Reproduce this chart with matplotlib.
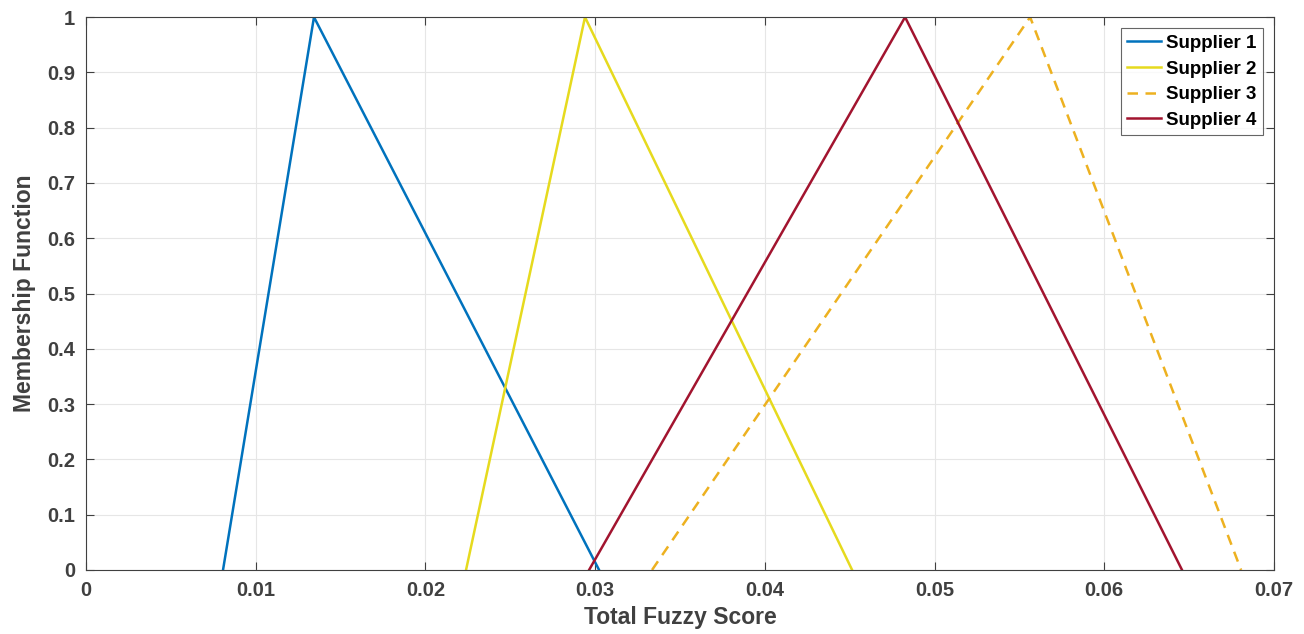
import numpy as np
import matplotlib.pyplot as plt

# triangular fuzzy numbers (l, m, u) for each supplier
names = ['Supplier 1', 'Supplier 2', 'Supplier 3', 'Supplier 4']
lower = [0.00807, 0.02239, 0.03335, 0.02964]
mid = [0.01343, 0.02940, 0.05563, 0.04826]
upper = [0.03023, 0.04514, 0.06806, 0.06458]
membership = [0, 1, 0]

colors = ['#0072BD', '#E6DA1E', '#EDB120', '#A2142F']
styles = ['-', '-', (0, (4.2, 3.0)), '-']

plt.rcParams['font.family'] = ['Liberation Sans', 'DejaVu Sans']
plt.rcParams['font.weight'] = 'bold'
txt = '#404040'

fig = plt.figure(figsize=(13.04, 6.34), dpi=100)
ax = fig.add_axes([0.066, 0.101, 0.911, 0.872])

for i in range(len(names)):
    ax.plot([lower[i], mid[i], upper[i]], membership, color=colors[i],
            ls=styles[i], lw=1.8, label=names[i])

ax.set_xlim(0, 0.07)
ax.set_ylim(0, 1)
ax.set_xticks(np.arange(0, 0.071, 0.01))
ax.set_yticks(np.arange(0, 1.01, 0.1))
ax.set_xticklabels(['0', '0.01', '0.02', '0.03', '0.04', '0.05', '0.06', '0.07'])
ax.set_yticklabels(['0', '0.1', '0.2', '0.3', '0.4', '0.5', '0.6', '0.7', '0.8', '0.9', '1'])
ax.grid(True, color='#e6e6e6', lw=0.8)
ax.set_axisbelow(True)
ax.tick_params(direction='in', top=True, right=True, length=6, width=0.8,
               color='#404040', labelcolor=txt, labelsize=14.5, pad=8)
for s in ax.spines.values():
    s.set_color('#404040')
    s.set_linewidth(0.8)

ax.set_xlabel('Total Fuzzy Score', fontsize=16.5, fontweight='bold', color=txt, labelpad=4)
ax.set_ylabel('Membership Function', fontsize=16.5, fontweight='bold', color=txt, labelpad=8)

leg = ax.legend(loc='upper right', fontsize=13.5, frameon=True, fancybox=False,
                handlelength=1.8, handletextpad=0.25, borderpad=0.35,
                labelspacing=0.45, borderaxespad=0.6)
leg.get_frame().set_edgecolor('#404040')
leg.get_frame().set_linewidth(0.8)
for t in leg.get_texts():
    t.set_color('black')

fig.savefig('out.png', dpi=100)
